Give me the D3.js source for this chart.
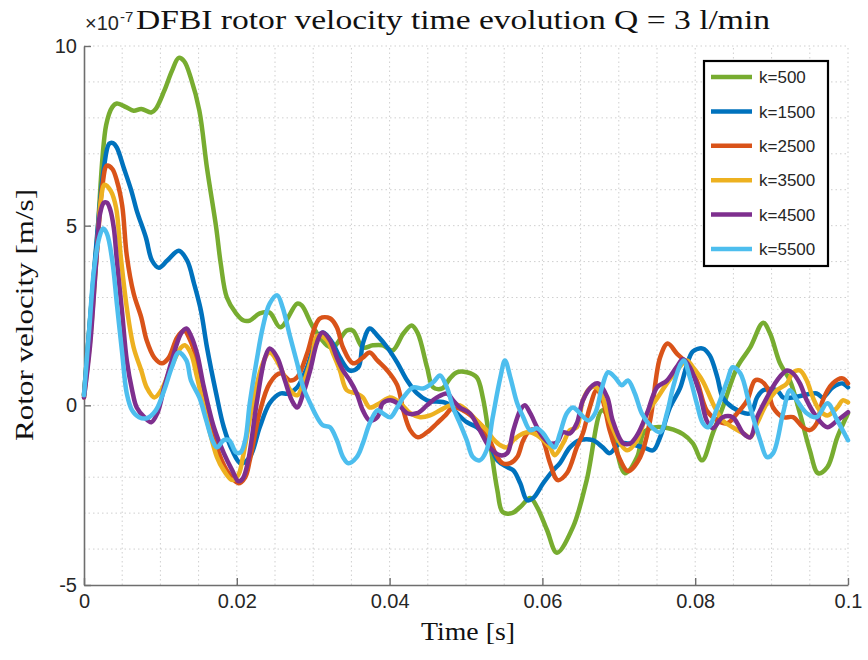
<!DOCTYPE html>
<html><head><meta charset="utf-8">
<script src="https://cdn.jsdelivr.net/npm/d3@7"></script>
<style>body{margin:0;background:#fff}</style>
</head><body><svg id="c" width="868" height="660"></svg>
<script>
const seriesNames = ["k=500","k=1500","k=2500","k=3500","k=4500","k=5500"];
const seriesColors = ["#77AC30","#0072BD","#D95319","#EDB120","#7E2F8E","#4DBEEE"];
const xTicks = [0,0.02,0.04,0.06,0.08,0.1];
const xTickLabels = ["0","0.02","0.04","0.06","0.08","0.1"];
const yTicks = [-5,0,5,10];
const yTickLabels = ["-5","0","5","10"];

// [time (s), velocity (x1e-7 m/s)]
const k500 = [[0,0.3],[0.0008,2.4],[0.0017,4.6],[0.0029,7.8],[0.0037,8.3],[0.0043,8.4],[0.0055,8.3],[0.0065,8.2],[0.0075,8.25],[0.0088,8.15],[0.0094,8.25],[0.0105,8.75],[0.0115,9.3],[0.0124,9.67],[0.0131,9.58],[0.0140,9.1],[0.0151,8.2],[0.0161,6.6],[0.0173,4.95],[0.0179,3.94],[0.0187,3.0],[0.0199,2.56],[0.0209,2.36],[0.0217,2.36],[0.0230,2.56],[0.0243,2.58],[0.0257,2.17],[0.0279,2.83],[0.0285,2.78],[0.0300,2.17],[0.0318,1.67],[0.0326,1.61],[0.0344,2.08],[0.0352,2.08],[0.0365,1.61],[0.0378,1.67],[0.0391,1.67],[0.0404,1.53],[0.0418,2.0],[0.0429,2.22],[0.0437,2.0],[0.0449,1.06],[0.0457,0.5],[0.0469,0.47],[0.0479,0.75],[0.0488,0.92],[0.0501,0.92],[0.0514,0.78],[0.0522,0.22],[0.0531,-0.97],[0.0541,-2.36],[0.0548,-2.97],[0.0560,-3.0],[0.0571,-2.83],[0.0584,-2.58],[0.0593,-2.83],[0.0606,-3.47],[0.0619,-4.1],[0.0640,-3.39],[0.0658,-2.08],[0.0678,-0.14],[0.0688,-0.42],[0.0708,-1.89],[0.0724,-1.44],[0.0732,-0.78],[0.0741,-0.64],[0.0758,-0.61],[0.0784,-0.8],[0.0797,-1.06],[0.0809,-1.53],[0.0823,-0.78],[0.0836,-0.06],[0.0855,1.06],[0.0872,1.61],[0.0889,2.3],[0.0898,2.0],[0.0911,1.17],[0.0924,0.69],[0.0937,-0.22],[0.0950,-1.25],[0.0961,-1.89],[0.0973,-1.72],[0.0986,-0.89],[0.1,-0.22]];

const k1500 = [[0,0.28],[0.0008,2.4],[0.0017,4.7],[0.0026,6.6],[0.0033,7.28],[0.0038,7.3],[0.0043,7.17],[0.0052,6.61],[0.0062,5.97],[0.0069,5.42],[0.0081,4.67],[0.0089,4.03],[0.0098,3.83],[0.0109,4.03],[0.0124,4.3],[0.0135,4.03],[0.0144,3.39],[0.0153,2.64],[0.0161,1.61],[0.0173,0.33],[0.0183,-0.61],[0.0194,-1.25],[0.0205,-1.61],[0.0217,-1.44],[0.0230,-0.61],[0.0243,0.06],[0.0257,0.33],[0.0267,0.33],[0.0279,0.5],[0.0292,1.06],[0.0305,1.89],[0.0313,2.03],[0.0325,1.75],[0.0335,1.33],[0.0348,0.97],[0.0359,1.06],[0.0365,1.72],[0.0374,2.14],[0.0384,1.94],[0.0397,1.61],[0.0410,1.19],[0.0423,0.69],[0.0436,0.33],[0.0449,0.14],[0.0475,0.06],[0.0488,-0.22],[0.0501,-0.47],[0.0514,-0.61],[0.0527,-0.89],[0.0541,-1.53],[0.0554,-1.72],[0.0562,-1.81],[0.0571,-2.17],[0.0580,-2.64],[0.0588,-2.58],[0.0601,-2.17],[0.0614,-1.81],[0.0623,-1.61],[0.0636,-1.17],[0.0649,-0.97],[0.0666,-0.97],[0.0679,-1.17],[0.0688,-1.33],[0.0702,-1.06],[0.0732,-1.17],[0.0745,-1.25],[0.0754,-0.89],[0.0767,-0.06],[0.0780,0.47],[0.0789,1.11],[0.0797,1.5],[0.0810,1.58],[0.0819,1.39],[0.0829,0.78],[0.0836,0.22],[0.0849,-0.06],[0.0872,-0.22],[0.0881,0.22],[0.0889,0.42],[0.0907,0.42],[0.0915,0.22],[0.0928,0.22],[0.0959,0.33],[0.0967,0.22],[0.0980,0.5],[0.0993,0.61],[0.1,0.5]];

const k2500 = [[0,0.28],[0.0008,2.1],[0.0017,4.3],[0.0024,6.1],[0.0030,6.67],[0.0037,6.58],[0.0043,6.25],[0.0050,5.56],[0.0056,4.17],[0.0065,3.11],[0.0075,2.44],[0.0082,1.81],[0.0092,1.33],[0.0102,1.17],[0.0111,1.33],[0.0122,1.89],[0.0131,2.08],[0.0139,1.81],[0.0148,1.25],[0.0161,-0.06],[0.0174,-1.17],[0.0187,-1.81],[0.0202,-2.17],[0.0211,-2.0],[0.0217,-1.53],[0.0230,-0.19],[0.0243,0.61],[0.0257,0.89],[0.0270,0.69],[0.0279,0.78],[0.0292,1.44],[0.0302,2.17],[0.0309,2.42],[0.0322,2.42],[0.0331,2.17],[0.0339,1.61],[0.0352,1.17],[0.0365,1.33],[0.0374,1.47],[0.0384,1.25],[0.0397,0.97],[0.0410,0.56],[0.0418,-0.14],[0.0427,-0.69],[0.0437,-0.89],[0.0449,-0.75],[0.0462,-0.5],[0.0473,-0.28],[0.0483,-0.06],[0.0496,-0.14],[0.0509,-0.33],[0.0522,-0.61],[0.0531,-0.97],[0.0541,-1.44],[0.0548,-1.61],[0.0558,-1.61],[0.0567,-1.44],[0.0575,-0.97],[0.0584,-0.69],[0.0593,-0.69],[0.0601,-0.97],[0.0610,-1.61],[0.0620,-2.08],[0.0632,-1.89],[0.0645,-1.17],[0.0653,-0.78],[0.0662,-0.06],[0.0671,0.42],[0.0679,0.14],[0.0688,-0.69],[0.0702,-1.53],[0.0712,-1.83],[0.0728,-1.44],[0.0741,-0.42],[0.0754,1.33],[0.0764,1.72],[0.0776,1.44],[0.0789,1.17],[0.0802,0.69],[0.0815,-0.14],[0.0829,-0.42],[0.0842,-0.5],[0.0855,-0.22],[0.0868,0.14],[0.0878,0.69],[0.0885,0.69],[0.0894,0.5],[0.0902,-0.06],[0.0915,-0.33],[0.0928,-0.33],[0.0941,-0.61],[0.0950,-0.69],[0.0959,-0.5],[0.0967,0.14],[0.0980,0.61],[0.0993,0.75],[0.1,0.61]];

const k3500 = [[0,0.22],[0.0008,1.8],[0.0017,4.3],[0.0022,5.7],[0.0027,6.14],[0.0035,5.97],[0.0042,5.5],[0.0048,4.17],[0.0056,2.72],[0.0065,1.61],[0.0075,0.97],[0.0082,0.5],[0.0092,0.22],[0.0101,0.42],[0.0114,1.06],[0.0127,1.61],[0.0132,1.67],[0.0140,1.44],[0.0148,0.78],[0.0161,-0.42],[0.0174,-1.44],[0.0183,-1.81],[0.0194,-2.08],[0.0202,-1.94],[0.0208,-1.44],[0.0221,0.06],[0.0234,1.17],[0.0243,1.47],[0.0257,1.06],[0.0270,0.42],[0.0279,0.28],[0.0287,0.61],[0.0298,1.33],[0.0306,1.94],[0.0318,1.81],[0.0326,1.44],[0.0335,0.97],[0.0344,0.42],[0.0357,0.33],[0.0365,0.22],[0.0374,-0.06],[0.0387,0.06],[0.0401,0.22],[0.0414,0.06],[0.0427,-0.22],[0.0440,-0.33],[0.0453,-0.28],[0.0466,-0.14],[0.0479,0.0],[0.0492,0.0],[0.0501,-0.14],[0.0514,-0.42],[0.0527,-0.69],[0.0535,-0.92],[0.0545,-1.11],[0.0554,-1.17],[0.0562,-0.97],[0.0575,-0.78],[0.0584,-0.75],[0.0597,-0.89],[0.0610,-1.17],[0.0616,-1.39],[0.0627,-1.06],[0.0636,-0.69],[0.0645,-0.61],[0.0653,0.14],[0.0662,0.47],[0.0671,0.5],[0.0679,0.22],[0.0688,-0.42],[0.0702,-1.06],[0.0711,-1.25],[0.0724,-0.97],[0.0737,-0.22],[0.0750,0.19],[0.0763,0.61],[0.0776,0.97],[0.0789,1.25],[0.0797,1.06],[0.0810,0.67],[0.0823,0.06],[0.0836,-0.42],[0.0849,-0.61],[0.0863,-0.78],[0.0872,-0.89],[0.0881,-0.5],[0.0894,0.06],[0.0907,0.42],[0.0920,0.61],[0.0928,0.92],[0.0937,0.97],[0.0946,0.69],[0.0954,0.22],[0.0963,-0.14],[0.0973,-0.28],[0.0986,-0.06],[0.0993,0.14],[0.1,0.08]];

const k4500 = [[0,0.22],[0.0008,1.67],[0.0016,4.0],[0.0021,5.33],[0.0026,5.64],[0.0030,5.64],[0.0034,5.47],[0.0039,4.94],[0.0043,4.03],[0.0050,2.56],[0.0056,1.25],[0.0063,0.42],[0.0069,-0.06],[0.0079,-0.33],[0.0088,-0.47],[0.0096,-0.22],[0.0105,0.5],[0.0115,1.25],[0.0127,2.0],[0.0134,2.14],[0.0140,1.94],[0.0148,1.44],[0.0157,0.5],[0.0170,-0.61],[0.0183,-1.33],[0.0194,-1.81],[0.0202,-2.11],[0.0208,-2.03],[0.0215,-1.53],[0.0226,0.06],[0.0237,1.33],[0.0243,1.58],[0.0253,1.33],[0.0263,0.69],[0.0272,0.14],[0.0279,-0.06],[0.0287,0.33],[0.0296,0.97],[0.0305,1.75],[0.0312,2.03],[0.0322,1.81],[0.0331,1.33],[0.0339,0.97],[0.0348,0.69],[0.0357,0.33],[0.0365,-0.14],[0.0374,-0.42],[0.0384,-0.33],[0.0391,0.06],[0.0401,0.14],[0.0410,0.06],[0.0423,-0.22],[0.0436,-0.22],[0.0449,0.0],[0.0462,0.22],[0.0475,0.33],[0.0483,0.14],[0.0492,-0.06],[0.0505,-0.22],[0.0518,-0.69],[0.0531,-1.17],[0.0545,-1.39],[0.0554,-1.33],[0.0562,-0.69],[0.0571,-0.14],[0.0577,0.0],[0.0584,-0.22],[0.0593,-0.61],[0.0601,-0.89],[0.0610,-1.06],[0.0619,-1.03],[0.0627,-0.75],[0.0636,-0.78],[0.0645,-0.5],[0.0653,0.14],[0.0666,0.56],[0.0673,0.61],[0.0685,0.22],[0.0692,-0.42],[0.0706,-1.06],[0.0715,-1.06],[0.0724,-0.83],[0.0737,-0.22],[0.0750,0.5],[0.0763,0.69],[0.0776,1.08],[0.0784,1.28],[0.0793,1.06],[0.0806,0.33],[0.0815,-0.42],[0.0823,-0.64],[0.0836,-0.33],[0.0849,-0.33],[0.0863,-0.78],[0.0872,-0.89],[0.0881,-0.33],[0.0894,0.22],[0.0907,0.69],[0.0920,0.97],[0.0928,0.89],[0.0937,0.61],[0.0946,0.14],[0.0959,-0.33],[0.0973,-0.61],[0.0986,-0.42],[0.1,-0.19]];

const k5500 = [[0,0.28],[0.0007,2.17],[0.0013,3.75],[0.0020,4.67],[0.0025,4.92],[0.0030,4.78],[0.0037,4.03],[0.0043,2.83],[0.0050,1.44],[0.0056,0.33],[0.0063,-0.14],[0.0072,-0.33],[0.0082,-0.36],[0.0094,-0.14],[0.0105,0.42],[0.0115,1.06],[0.0124,1.47],[0.0134,1.25],[0.0140,0.69],[0.0151,0.22],[0.0160,-0.42],[0.0168,-0.97],[0.0174,-1.17],[0.0183,-0.97],[0.0190,-0.97],[0.0199,-1.31],[0.0205,-1.31],[0.0211,-0.97],[0.0217,0.06],[0.0226,1.25],[0.0234,2.17],[0.0243,2.83],[0.0253,3.06],[0.0260,2.72],[0.0270,1.89],[0.0279,1.17],[0.0287,0.5],[0.0296,0.06],[0.0305,-0.33],[0.0313,-0.56],[0.0322,-0.61],[0.0331,-0.97],[0.0339,-1.44],[0.0346,-1.61],[0.0357,-1.44],[0.0365,-1.06],[0.0374,-0.5],[0.0384,-0.14],[0.0391,-0.22],[0.0401,-0.33],[0.0410,-0.06],[0.0418,0.22],[0.0431,0.5],[0.0444,0.47],[0.0457,0.64],[0.0466,0.83],[0.0475,0.5],[0.0483,-0.06],[0.0492,-0.5],[0.0501,-0.97],[0.0509,-1.44],[0.0518,-1.53],[0.0527,-1.25],[0.0535,-0.33],[0.0545,0.78],[0.0551,1.25],[0.0558,0.78],[0.0567,0.06],[0.0575,-0.33],[0.0584,-0.69],[0.0593,-0.64],[0.0601,-0.78],[0.0610,-1.06],[0.0616,-1.17],[0.0623,-0.78],[0.0632,-0.22],[0.0640,-0.06],[0.0649,-0.22],[0.0660,-0.42],[0.0669,-0.22],[0.0678,0.5],[0.0686,0.92],[0.0695,0.78],[0.0704,0.56],[0.0712,0.69],[0.0721,0.33],[0.0730,-0.22],[0.0741,-0.56],[0.0754,-0.75],[0.0763,-0.22],[0.0771,0.5],[0.0780,1.11],[0.0785,1.25],[0.0793,0.78],[0.0802,0.06],[0.0810,-0.5],[0.0817,-0.61],[0.0829,-0.06],[0.0842,0.69],[0.0849,1.06],[0.0859,0.89],[0.0872,-0.06],[0.0885,-0.97],[0.0894,-1.44],[0.0902,-1.33],[0.0915,-0.22],[0.0924,0.42],[0.0933,0.14],[0.0946,-0.22],[0.0959,-0.33],[0.0973,0.06],[0.0986,-0.42],[0.1,-0.97]];

const seriesData = [k500,k1500,k2500,k3500,k4500,k5500];

const svg = d3.select("#c");
svg.append("rect").attr("width",868).attr("height",660).attr("fill","#fff");

const x = d3.scaleLinear().domain([0,0.1]).range([84,848]);
const y = d3.scaleLinear().domain([-5,10]).range([585,46]);

// grid (dotted)
const grid = svg.append("g").attr("stroke","#cfcfcf").attr("stroke-width",1).attr("stroke-dasharray","1.5,3");
grid.selectAll("line.v").data(d3.range(1,21).map(i=>i*0.005)).join("line")
  .attr("x1",d=>x(d)).attr("x2",d=>x(d)).attr("y1",y(-5)).attr("y2",y(10));
grid.selectAll("line.h").data(d3.range(-4,11)).join("line")
  .attr("x1",x(0)).attr("x2",x(0.1)).attr("y1",d=>y(d)).attr("y2",d=>y(d));

// axes
const tickFont = "'Liberation Sans', Arial, Helvetica, sans-serif";
const yAxis = svg.append("g").attr("transform",`translate(${x(0)},0)`)
  .call(d3.axisLeft(y).tickValues(yTicks).tickFormat((d,i)=>yTickLabels[i]).tickSizeInner(-7).tickSizeOuter(0).tickPadding(7));
const xAxis = svg.append("g").attr("transform",`translate(0,${y(-5)})`)
  .call(d3.axisBottom(x).tickValues(xTicks).tickFormat((d,i)=>xTickLabels[i]).tickSizeInner(-7).tickSizeOuter(0).tickPadding(9));
[xAxis,yAxis].forEach(a=>{
  a.select(".domain").attr("stroke","#6e6e6e").attr("stroke-width",1.6);
  a.selectAll(".tick line").attr("stroke","#6e6e6e").attr("stroke-width",1.4);
  a.selectAll(".tick text").attr("font-family",tickFont).attr("font-size",20).attr("fill","#262626");
});

// lines
const line = d3.line().x(d=>x(d[0])).y(d=>y(d[1])).curve(d3.curveCatmullRom.alpha(0.5));
svg.append("g").selectAll("path").data(seriesData).join("path")
  .attr("d",line).attr("fill","none")
  .attr("stroke",(d,i)=>seriesColors[i]).attr("stroke-width",4.5)
  .attr("stroke-linejoin","round").attr("stroke-linecap","round");

// exponent
svg.append("text").attr("x",85).attr("y",30).attr("font-family",tickFont).attr("font-size",20).attr("fill","#262626").text("×10");
svg.append("text").attr("x",120).attr("y",22).attr("font-family",tickFont).attr("font-size",15).attr("fill","#262626").text("-7");

// title & labels
const serif = "'Liberation Serif', 'Times New Roman', serif";
function fitText(sel, target){
  sel.attr("textLength", target).attr("lengthAdjust","spacingAndGlyphs");
}
const title = svg.append("text").attr("x",136).attr("y",29).attr("font-family",serif).attr("font-size",27).attr("fill","#111")
  .text("DFBI rotor velocity time evolution Q = 3 l/min");
fitText(title, 634);

const xl = svg.append("text").attr("x",468).attr("y",640).attr("text-anchor","middle").attr("font-family",serif).attr("font-size",25).attr("fill","#111").text("Time [s]");
fitText(xl, 94);
const yl = svg.append("text").attr("transform","translate(33,315) rotate(-90)").attr("text-anchor","middle").attr("font-family",serif).attr("font-size",25).attr("fill","#111").text("Rotor velocity [m/s]");
fitText(yl, 252);

// legend
const lg = svg.append("g");
lg.append("rect").attr("x",704).attr("y",61).attr("width",124).attr("height",205).attr("fill","#fff").attr("stroke","#000").attr("stroke-width",2.2);
const ly = d3.scalePoint().domain(seriesNames).range([77,249]);
const items = lg.selectAll("g.it").data(seriesNames).join("g").attr("transform",d=>`translate(0,${ly(d)})`);
items.append("line").attr("x1",711).attr("x2",752).attr("y1",0).attr("y2",0).attr("stroke",(d,i)=>seriesColors[i]).attr("stroke-width",4.5);
items.append("text").attr("x",759).attr("y",0).attr("dy","0.36em").attr("font-family",tickFont).attr("font-size",17).attr("fill","#262626").text(d=>d);
</script></body></html>
